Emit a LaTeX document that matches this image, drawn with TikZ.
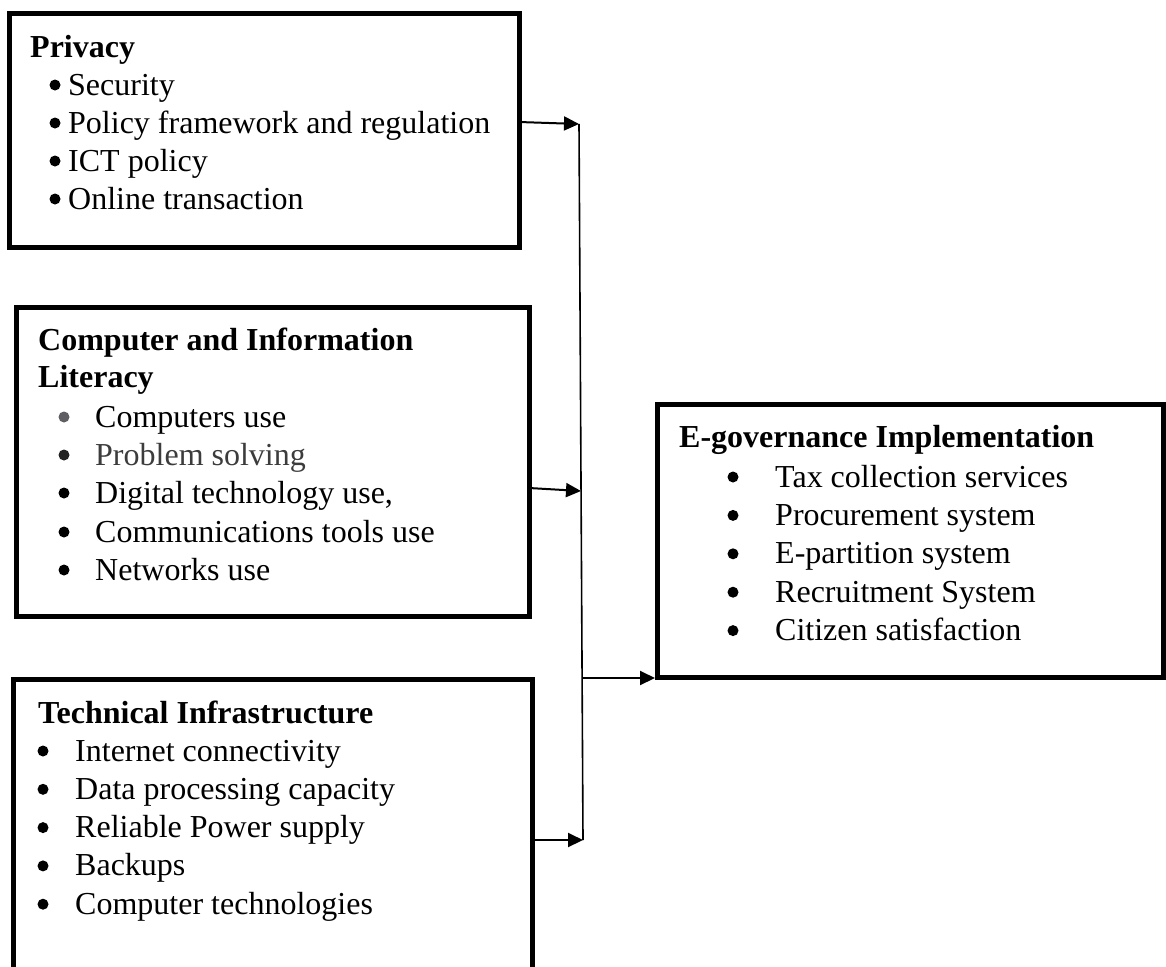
\documentclass[tikz,border=0pt]{standalone}
\usepackage{fontspec}
\setmainfont{Liberation Serif}
\usetikzlibrary{arrows.meta}
\definecolor{softgrey}{HTML}{5E5E63}
\definecolor{textgrey}{HTML}{3C3C3C}
\definecolor{dotdark}{HTML}{222222}
\begin{document}
\begin{tikzpicture}[x=1pt,y=-1pt,
  box/.style={draw=black,line width=5pt,rectangle,inner sep=0pt,outer sep=0pt},
  ttl/.style={anchor=base west,font=\fontsize{32}{38}\selectfont\bfseries,inner sep=0pt},
  itm/.style={anchor=base west,font=\fontsize{32}{38}\selectfont,inner sep=0pt},
  dot/.style={circle,fill=black,inner sep=0pt,minimum size=11pt},
  link/.style={line width=2pt,-{Triangle[length=15pt,width=14pt]}},
  bus/.style={line width=1.6pt},
]
\useasboundingbox (0,0) rectangle (1166,966);

% --- frames ---
\node[box,minimum width=510pt,minimum height=233pt] (priv) at (264,130.5) {};
\node[box,minimum width=513pt,minimum height=309pt] (lit)  at (272.5,461.5) {};
\node[box,minimum width=519pt,minimum height=311pt] (tech) at (272.5,834.5) {};
\node[box,minimum width=506pt,minimum height=273pt] (egov) at (910,540.5) {};

% --- Privacy ---
\node[ttl] (privt) at (30,57) {Privacy};
\foreach \t [count=\i from 0] in {Security,Policy framework and regulation,ICT policy,Online transaction}{
  \node[dot] (pd\i) at (55,{85+38*\i}) {};
  \node[itm] (pt\i) at (68,{95+38*\i}) {\t};
}

% --- Computer and Information Literacy ---
\node[ttl] (litt1) at (38,350) {Computer and Information};
\node[ttl] (litt2) at (38,387) {Literacy};
\node[dot,fill=softgrey] (ld0) at (64,417) {};
\node[itm] (lt0) at (95,427) {Computers use};
\node[dot,fill=dotdark] (ld1) at (64,455) {};
\node[itm,text=textgrey] (lt1) at (95,465) {Problem solving};
\node[dot] (ld2) at (64,493) {};
\node[itm] (lt2) at (95,503) {Digital technology use,};
\node[dot] (ld3) at (64,532) {};
\node[itm] (lt3) at (95,542) {Communications tools use};
\node[dot] (ld4) at (64,570) {};
\node[itm] (lt4) at (95,580) {Networks use};

% --- Technical Infrastructure ---
\node[ttl] (techt) at (38,723) {Technical Infrastructure};
\foreach \t [count=\i from 0] in {Internet connectivity,Data processing capacity,Reliable Power supply,Backups,Computer technologies}{
  \node[dot] (td\i) at (43,{751+38.3*\i}) {};
  \node[itm] (tt\i) at (75,{761+38.3*\i}) {\t};
}

% --- E-governance Implementation ---
\node[ttl] (egovt) at (679,447) {E-governance Implementation};
\foreach \t [count=\i from 0] in {Tax collection services,Procurement system,E-partition system,Recruitment System,Citizen satisfaction}{
  \node[dot] (ed\i) at (733,{477+38.4*\i}) {};
  \node[itm] (et\i) at (775,{487+38.4*\i}) {\t};
}

% --- collector line and arrows ---
\coordinate (b1) at (579,124);
\coordinate (b2) at (581,491);
\coordinate (bj) at (582,678);
\coordinate (b3) at (583,840);
\draw[bus] (b1) -- (b3);
\draw[link] (priv.east |- 0,122) -- (b1);
\draw[link] (lit.east |- 0,488) -- (b2);
\draw[link] (tech.east |- b3) -- (b3);
\draw[link,shorten >=2pt] (bj) -- (egov.west |- bj);
\end{tikzpicture}
\end{document}
